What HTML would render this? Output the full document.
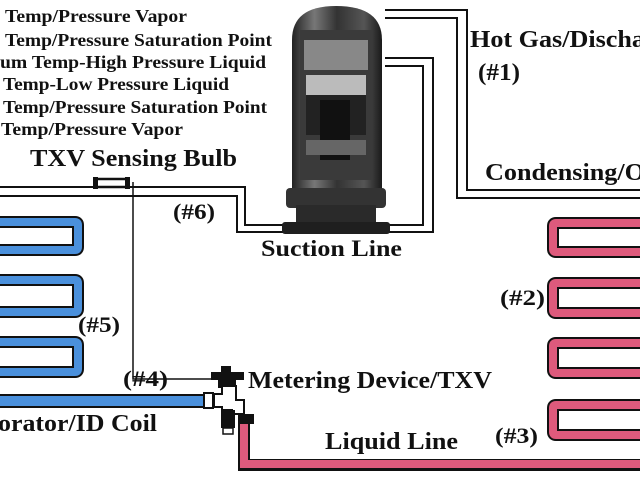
<!DOCTYPE html>
<html><head><meta charset="utf-8"><style>
html,body{margin:0;padding:0;background:#fff;}
svg{display:block;}
text{font-family:"Liberation Serif",serif;font-weight:bold;fill:#111;}
</style></head><body>
<svg width="640" height="480" viewBox="0 0 640 480" xmlns="http://www.w3.org/2000/svg">
<defs>
<linearGradient id="shell" x1="0" x2="1">
<stop offset="0" stop-color="#222"/><stop offset="0.25" stop-color="#777"/><stop offset="0.5" stop-color="#333"/><stop offset="0.8" stop-color="#555"/><stop offset="1" stop-color="#1a1a1a"/>
</linearGradient>
</defs>
<g font-size="18">
<text x="5" y="22" textLength="182" lengthAdjust="spacingAndGlyphs">Temp/Pressure Vapor</text>
<text x="5" y="46" textLength="267" lengthAdjust="spacingAndGlyphs">Temp/Pressure Saturation Point</text>
<text x="0" y="68" textLength="266" lengthAdjust="spacingAndGlyphs">um Temp-High Pressure Liquid</text>
<text x="3" y="90" textLength="226" lengthAdjust="spacingAndGlyphs">Temp-Low Pressure Liquid</text>
<text x="3" y="113" textLength="264" lengthAdjust="spacingAndGlyphs">Temp/Pressure Saturation Point</text>
<text x="1" y="135" textLength="182" lengthAdjust="spacingAndGlyphs">Temp/Pressure Vapor</text>
</g>
<text x="30" y="166" font-size="24" textLength="207" lengthAdjust="spacingAndGlyphs">TXV Sensing Bulb</text>

<g fill="none" stroke="#111" stroke-width="2">
<polyline points="0,187 245,187 245,225 423,225 423,66 385,66"/>
<polyline points="0,196 237,196 237,232 433,232 433,58 385,58"/>
<polyline points="385,10 467,10 467,190 640,190"/>
<polyline points="385,18 457,18 457,198 640,198"/>
<polyline points="133,182 133,379 226,379 226,368" stroke-width="1.5"/>
</g>
<rect x="96" y="179" width="32" height="8" fill="#fff" stroke="#111" stroke-width="2.5"/>
<rect x="93" y="177" width="5" height="12" fill="#111"/><rect x="125" y="177" width="5" height="12" fill="#111"/>

<path d="M292,40 Q292,6 336,6 Q382,6 382,40 L382,195 L292,195 Z" fill="url(#shell)"/>
<rect x="300" y="30" width="72" height="150" fill="#3a3a3a"/>
<rect x="304" y="40" width="64" height="30" fill="#888"/>
<rect x="306" y="75" width="60" height="20" fill="#bbb"/>
<rect x="306" y="95" width="60" height="40" fill="#222"/>
<rect x="320" y="100" width="30" height="60" fill="#111"/>
<rect x="306" y="140" width="60" height="15" fill="#666"/>
<rect x="286" y="188" width="100" height="20" rx="4" fill="#333"/>
<rect x="296" y="205" width="80" height="20" fill="#2a2a2a"/>
<rect x="282" y="222" width="108" height="12" rx="3" fill="#1f1f1f"/>

<text x="470" y="47" font-size="24" textLength="175" lengthAdjust="spacingAndGlyphs">Hot Gas/Discha</text>
<text x="478" y="80" font-size="24" textLength="42" lengthAdjust="spacingAndGlyphs">(#1)</text>
<text x="485" y="180" font-size="24" textLength="160" lengthAdjust="spacingAndGlyphs">Condensing/O</text>
<text x="173" y="219" font-size="22" textLength="42" lengthAdjust="spacingAndGlyphs">(#6)</text>
<text x="261" y="256" font-size="23" textLength="141" lengthAdjust="spacingAndGlyphs">Suction Line</text>
<text x="500" y="305" font-size="22" textLength="45" lengthAdjust="spacingAndGlyphs">(#2)</text>
<text x="78" y="332" font-size="22" textLength="42" lengthAdjust="spacingAndGlyphs">(#5)</text>
<text x="123" y="386" font-size="22" textLength="45" lengthAdjust="spacingAndGlyphs">(#4)</text>
<text x="248" y="388" font-size="24" textLength="244" lengthAdjust="spacingAndGlyphs">Metering Device/TXV</text>
<text x="-2" y="431" font-size="24" textLength="159" lengthAdjust="spacingAndGlyphs">orator/ID Coil</text>
<text x="325" y="449" font-size="24" textLength="133" lengthAdjust="spacingAndGlyphs">Liquid Line</text>
<text x="495" y="443" font-size="22" textLength="43" lengthAdjust="spacingAndGlyphs">(#3)</text>

<g fill="none" stroke="#111" stroke-width="12" stroke-linejoin="round">
<path d="M-5,222 L75,222 Q78,222 78,225 L78,247 Q78,250 75,250 L-5,250"/>
<path d="M-5,280 L75,280 Q78,280 78,283 L78,309 Q78,312 75,312 L-5,312"/>
<path d="M-5,342 L75,342 Q78,342 78,345 L78,369 Q78,372 75,372 L-5,372"/>
</g>
<g fill="none" stroke="#4a90dc" stroke-width="8" stroke-linejoin="round">
<path d="M-5,222 L75,222 Q78,222 78,225 L78,247 Q78,250 75,250 L-5,250"/>
<path d="M-5,280 L75,280 Q78,280 78,283 L78,309 Q78,312 75,312 L-5,312"/>
<path d="M-5,342 L75,342 Q78,342 78,345 L78,369 Q78,372 75,372 L-5,372"/>
</g>
<rect x="-2" y="395" width="206" height="12" fill="#4a90dc" stroke="#111" stroke-width="2"/>

<g fill="none" stroke="#111" stroke-width="12" stroke-linejoin="round">
<path d="M645,223 L556,223 Q553,223 553,226 L553,249 Q553,252 556,252 L645,252"/>
<path d="M645,283 L556,283 Q553,283 553,286 L553,310 Q553,313 556,313 L645,313"/>
<path d="M645,343 L556,343 Q553,343 553,346 L553,370 Q553,373 556,373 L645,373"/>
<path d="M645,405 L556,405 Q553,405 553,408 L553,432 Q553,435 556,435 L645,435"/>
</g>
<g fill="none" stroke="#de5a7c" stroke-width="8" stroke-linejoin="round">
<path d="M645,223 L556,223 Q553,223 553,226 L553,249 Q553,252 556,252 L645,252"/>
<path d="M645,283 L556,283 Q553,283 553,286 L553,310 Q553,313 556,313 L645,313"/>
<path d="M645,343 L556,343 Q553,343 553,346 L553,370 Q553,373 556,373 L645,373"/>
<path d="M645,405 L556,405 Q553,405 553,408 L553,432 Q553,435 556,435 L645,435"/>
</g>
<path d="M244,420 L244,465 L645,465" fill="none" stroke="#111" stroke-width="12"/>
<path d="M244,420 L244,464 L645,464" fill="none" stroke="#de5a7c" stroke-width="8"/>

<rect x="221" y="366" width="10" height="6" fill="#111"/>
<rect x="211" y="372" width="33" height="8" fill="#111"/>
<rect x="218" y="380" width="18" height="8" fill="#111"/>
<path d="M214,394 L222,394 L222,386 L236,386 L236,400 L244,400 L244,414 L232,414 L232,410 L222,410 L222,407 L214,407 Z" fill="#fff" stroke="#111" stroke-width="2"/>
<rect x="204" y="393" width="9" height="15" fill="#fff" stroke="#111" stroke-width="2"/>
<rect x="221" y="410" width="14" height="18" fill="#111"/>
<rect x="223" y="428" width="10" height="6" fill="#fff" stroke="#111" stroke-width="1.5"/>
<rect x="238" y="414" width="16" height="10" fill="#111"/>
</svg>
</body></html>
